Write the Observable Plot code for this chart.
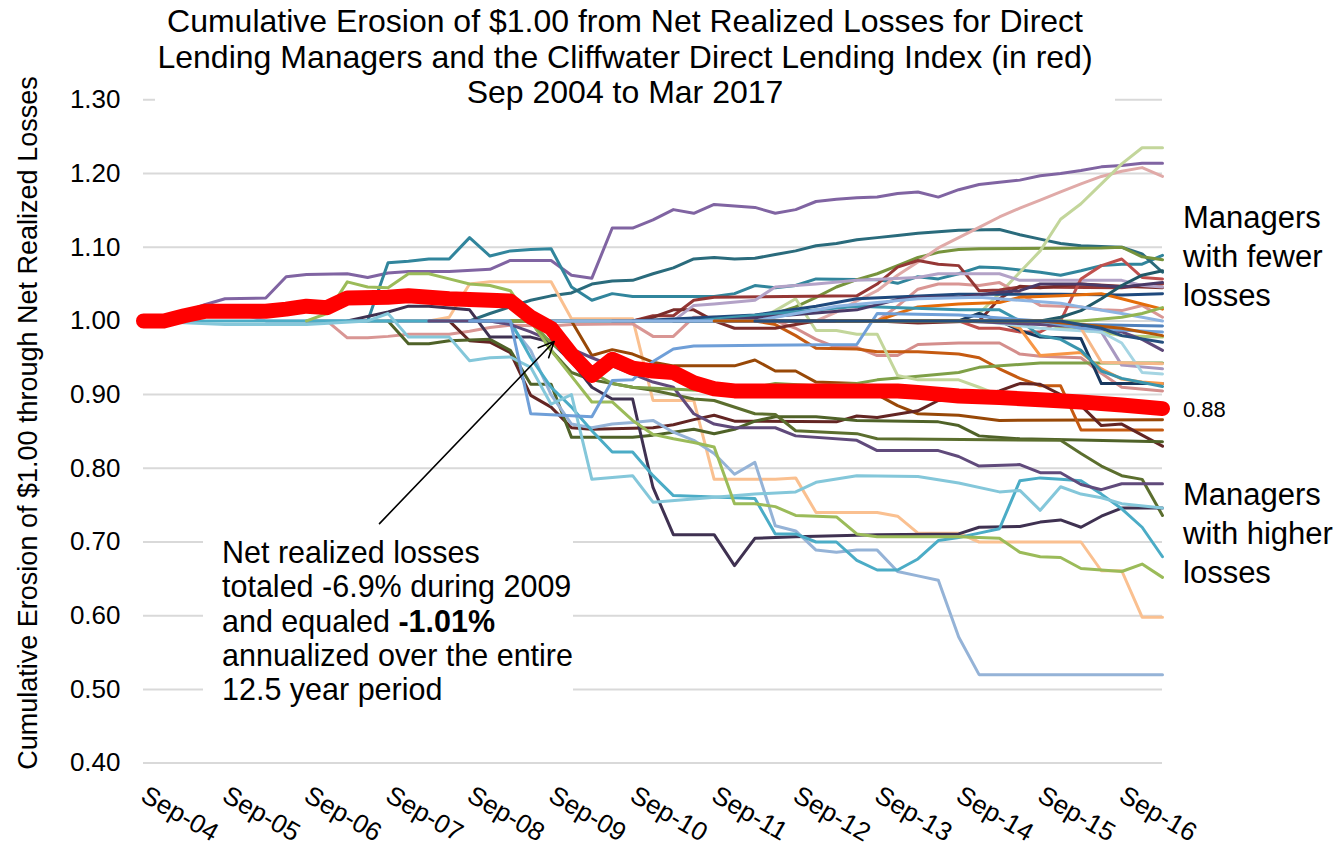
<!DOCTYPE html>
<html><head><meta charset="utf-8">
<script src="https://cdn.jsdelivr.net/npm/d3@7"></script>
<script src="https://cdn.jsdelivr.net/npm/@observablehq/plot@0.6"></script>
<style>
body{margin:0;background:#fff;font-family:"Liberation Sans",Arial,Helvetica,sans-serif;}
#wrap{position:relative;width:1341px;height:846px;overflow:hidden;background:#fff}
.ov{position:absolute;color:#000;white-space:nowrap}
#title{left:155px;top:0;width:960px;height:112px;padding:4px 20px 0 0;box-sizing:border-box;background:#fff;text-align:center;font-size:32px;line-height:35.5px}
#ytitle{left:28px;top:423px;transform:translate(-50%,-50%) rotate(-90deg);font-size:27px}
#note{left:203px;top:527px;width:370px;height:185px;padding:8px 0 0 19px;box-sizing:border-box;background:#fff;font-size:30.5px;line-height:34.25px}
.rl{left:1183px;font-size:31px;line-height:39px}
#fewer{top:198px}
#higher{top:475px}
#lbl88{left:1183px;top:398px;font-size:22px;line-height:24px}
</style></head>
<body><div id="wrap"></div>
<script>
// ---- x axis (quarter index 0 = Sep-04 ... 50 = Mar-17)
const tickQuarters = [0,4,8,12,16,20,24,28,32,36,40,44,48];
const tickLabels = ["Sep-04","Sep-05","Sep-06","Sep-07","Sep-08","Sep-09","Sep-10","Sep-11","Sep-12","Sep-13","Sep-14","Sep-15","Sep-16"];
const yTicks = [0.4,0.5,0.6,0.7,0.8,0.9,1.0,1.1,1.2,1.3];

// ---- Cliffwater Direct Lending Index (red)
const indexCDLI = [[0,1.0],[1,1.0],[2,1.007],[3,1.013],[6,1.013],[7,1.016],[8,1.02],[9,1.018],[10,1.031],[12,1.032],[13,1.034],[15,1.03],[17,1.028],[18,1.027],[19,1.005],[20,0.99],[21,0.955],[22,0.926],[23,0.948],[24,0.936],[25,0.932],[26,0.93],[27,0.916],[28,0.908],[29,0.905],[37,0.905],[38,0.903],[40,0.898],[42,0.896],[44,0.893],[46,0.89],[48,0.886],[50,0.881]];

// ---- individual managers
const m01 = [[0,1.0],[1,1.0],[2,1.012],[3,1.022],[4,1.03],[6,1.031],[7,1.06],[8,1.063],[10,1.064],[11,1.059],[12,1.065],[13,1.067],[15,1.067],[17,1.07],[18,1.082],[20,1.082],[21,1.062],[22,1.058],[23,1.126],[24,1.126],[25,1.137],[26,1.151],[27,1.146],[28,1.158],[29,1.156],[30,1.154],[31,1.146],[32,1.151],[33,1.162],[34,1.165],[35,1.167],[36,1.168],[37,1.173],[38,1.175],[39,1.168],[40,1.178],[41,1.185],[42,1.188],[43,1.191],[44,1.197],[45,1.2],[46,1.204],[47,1.209],[48,1.211],[49,1.214],[50,1.214]];
const m02 = [[8,1.0],[11,1.0],[12,1.079],[13,1.081],[14,1.084],[15,1.084],[16,1.113],[17,1.088],[18,1.095],[19,1.097],[20,1.098],[21,1.046],[22,1.028],[23,1.037],[24,1.033],[28,1.033],[29,1.037],[30,1.048],[31,1.045],[32,1.048],[33,1.057],[36,1.056],[37,1.051],[38,1.06],[39,1.057],[40,1.064],[41,1.073],[42,1.072],[43,1.069],[44,1.066],[45,1.062],[46,1.068],[47,1.075],[48,1.077],[49,1.077],[50,1.089]];
const m03 = [[16,1.0],[17,1.01],[18,1.019],[19,1.028],[20,1.034],[21,1.038],[22,1.05],[23,1.054],[24,1.055],[25,1.064],[26,1.072],[27,1.084],[28,1.086],[29,1.084],[30,1.085],[31,1.09],[32,1.095],[33,1.102],[34,1.105],[35,1.11],[36,1.113],[37,1.116],[38,1.119],[39,1.121],[40,1.123],[42,1.124],[43,1.117],[44,1.111],[45,1.105],[46,1.102],[47,1.101],[48,1.1],[49,1.091],[50,1.066]];
const m04 = [[24,1.0],[30,1.0],[31,1.01],[32,1.019],[33,1.032],[34,1.046],[35,1.056],[36,1.064],[37,1.075],[38,1.086],[39,1.093],[40,1.097],[41,1.098],[47,1.099],[48,1.1],[49,1.087],[50,1.083]];
const m05 = [[26,1.0],[33,1.0],[34,1.012],[35,1.027],[36,1.041],[37,1.062],[38,1.08],[39,1.099],[40,1.113],[41,1.127],[42,1.141],[43,1.153],[44,1.164],[45,1.175],[46,1.186],[47,1.196],[48,1.203],[49,1.208],[50,1.196]];
const m06 = [[30,1.0],[40,1.0],[41,1.01],[42,1.037],[43,1.066],[44,1.095],[45,1.138],[46,1.159],[47,1.186],[48,1.213],[49,1.235],[50,1.235]];
const m07 = [[14,1.0],[15,1.005],[16,1.05],[17,1.053],[20,1.053],[21,1.003],[24,1.003],[25,0.892],[27,0.892],[28,0.785],[31,0.785],[32,0.787],[33,0.74],[36,0.74],[37,0.735],[38,0.712],[40,0.712],[41,0.7],[46,0.7],[47,0.661],[48,0.661],[49,0.598],[50,0.598]];
const m08 = [[8,1.0],[9,1.0],[10,0.977],[11,0.977],[12,0.979],[13,0.982],[15,0.982],[16,0.986],[17,0.991],[18,0.994],[20,0.993],[21,0.995],[24,0.996],[25,0.979],[26,0.979],[27,1.005],[28,1.005],[30,1.0],[36,1.0],[37,1.02],[38,1.043],[39,1.05],[40,1.05],[41,1.048],[42,1.052],[43,1.037],[44,1.021],[46,1.019],[47,1.015],[48,1.014],[49,1.021],[50,1.005]];
const m09 = [[29,1.0],[31,1.0],[32,0.99],[33,0.975],[34,0.964],[35,0.964],[36,0.953],[37,0.953],[38,0.968],[40,0.97],[42,0.97],[43,0.955],[44,0.952],[46,0.95],[47,0.929],[48,0.91],[50,0.905]];
const m10 = [[18,1.0],[21,1.0],[22,0.953],[23,0.961],[24,0.955],[25,0.944],[26,0.939],[29,0.939],[30,0.947],[31,0.932],[32,0.932],[33,0.917],[35,0.915],[36,0.9],[37,0.885],[38,0.874],[40,0.872],[42,0.865],[50,0.866]];
const m11 = [[26,1.0],[30,1.0],[31,0.995],[32,0.98],[33,0.963],[35,0.962],[36,0.958],[38,0.958],[40,0.955],[41,0.95],[42,0.935],[43,0.922],[44,0.912],[45,0.912],[46,0.852],[50,0.852]];
const m12 = [[12,1.0],[15,1.0],[16,0.973],[17,0.971],[18,0.957],[19,0.899],[20,0.883],[21,0.855],[22,0.853],[25,0.855],[26,0.859],[27,0.866],[28,0.872],[29,0.864],[34,0.863],[35,0.871],[36,0.869],[38,0.878],[39,0.892],[40,0.893],[42,0.905],[43,0.915],[44,0.914],[45,0.9],[46,0.885],[47,0.858],[48,0.86],[49,0.845],[50,0.83]];
const m13 = [[11,1.0],[12,1.0],[13,0.969],[14,0.969],[15,0.973],[17,0.975],[18,0.96],[19,0.914],[20,0.914],[21,0.842],[24,0.842],[25,0.845],[26,0.849],[27,0.853],[28,0.847],[29,0.853],[30,0.864],[31,0.87],[33,0.87],[35,0.865],[39,0.863],[40,0.858],[41,0.844],[43,0.84],[50,0.836]];
const m14 = [[16,1.0],[19,1.0],[20,0.96],[21,0.93],[22,0.92],[23,0.915],[24,0.91],[25,0.906],[27,0.894],[28,0.892],[30,0.874],[31,0.873],[32,0.851],[35,0.847],[36,0.84],[45,0.838],[46,0.82],[47,0.803],[48,0.79],[49,0.785],[50,0.736]];
const m15 = [[10,1.0],[12,1.012],[13,1.02],[14,1.02],[16,1.015],[17,0.978],[19,0.978],[20,0.971],[21,0.945],[22,0.91],[23,0.894],[24,0.894],[25,0.774],[26,0.71],[28,0.71],[29,0.668],[30,0.705],[32,0.707],[36,0.71],[40,0.711],[41,0.72],[43,0.721],[44,0.727],[45,0.73],[46,0.72],[47,0.735],[48,0.746],[50,0.746]];
const m16 = [[0,1.0],[2,1.005],[3,1.012],[4,1.015],[6,1.0],[17,1.0],[18,0.995],[19,0.96],[20,0.9],[21,0.86],[22,0.855],[23,0.86],[24,0.862],[25,0.865],[26,0.849],[27,0.838],[28,0.82],[29,0.792],[30,0.808],[31,0.722],[32,0.715],[33,0.689],[34,0.686],[35,0.689],[36,0.689],[37,0.66],[38,0.654],[39,0.648],[40,0.571],[41,0.52],[50,0.52]];
const m17 = [[0,1.0],[18,1.0],[19,0.95],[20,0.91],[21,0.883],[22,0.851],[23,0.822],[24,0.822],[25,0.79],[26,0.763],[28,0.761],[30,0.759],[31,0.711],[32,0.711],[33,0.7],[34,0.7],[35,0.675],[36,0.662],[37,0.662],[38,0.677],[39,0.702],[40,0.706],[41,0.712],[42,0.718],[43,0.783],[44,0.787],[45,0.785],[46,0.783],[47,0.765],[48,0.745],[49,0.72],[50,0.68]];
const m18 = [[0,1.0],[4,0.995],[8,0.995],[11,1.0],[12,1.01],[13,0.978],[15,0.978],[16,0.946],[17,0.95],[18,0.951],[19,0.937],[20,0.887],[21,0.9],[22,0.785],[24,0.79],[25,0.754],[30,0.765],[32,0.768],[33,0.781],[35,0.79],[38,0.789],[40,0.78],[42,0.768],[43,0.77],[44,0.743],[45,0.775],[46,0.765],[47,0.76],[48,0.752],[50,0.746]];
const m19 = [[14,1.0],[17,1.0],[18,0.995],[19,0.985],[20,0.973],[21,0.962],[22,0.95],[25,0.917],[26,0.91],[27,0.874],[28,0.86],[29,0.855],[31,0.855],[32,0.844],[35,0.838],[36,0.824],[39,0.824],[40,0.816],[41,0.803],[43,0.805],[44,0.794],[45,0.794],[46,0.778],[47,0.771],[48,0.779],[50,0.779]];
const m20 = [[8,1.0],[9,1.01],[10,1.053],[11,1.046],[12,1.045],[13,1.064],[14,1.064],[15,1.057],[16,1.05],[17,1.048],[18,1.041],[19,1.0],[20,0.96],[21,0.925],[22,0.89],[23,0.89],[24,0.865],[25,0.846],[26,0.84],[27,0.835],[28,0.829],[29,0.752],[30,0.752],[31,0.748],[32,0.736],[34,0.734],[35,0.711],[36,0.707],[40,0.707],[42,0.705],[43,0.686],[44,0.68],[45,0.679],[46,0.664],[48,0.66],[49,0.67],[50,0.652]];
const m21 = [[18,1.0],[19,1.0],[20,0.97],[21,0.95],[22,0.93],[23,0.915],[24,0.91],[28,0.905],[30,0.91],[31,0.915],[33,0.912],[35,0.915],[36,0.92],[38,0.925],[40,0.93],[41,0.937],[44,0.943],[50,0.943]];
const m22 = [[22,1.0],[30,1.0],[31,1.014],[32,1.03],[33,0.987],[34,0.987],[35,0.982],[36,0.982],[37,0.926],[38,0.92],[40,0.92],[41,0.91],[42,0.899],[46,0.893],[50,0.884]];
const m23 = [[20,1.0],[44,1.0],[45,0.99],[47,0.985],[48,0.98],[50,0.978]];
const m24 = [[23,1.0],[24,1.0],[25,1.007],[26,1.007],[27,1.028],[28,1.032],[35,1.034],[36,1.05],[37,1.073],[38,1.082],[39,1.077],[40,1.075],[41,1.041],[42,1.042],[43,1.046],[48,1.045],[49,1.048],[50,1.05]];
const m25 = [[24,1.0],[25,1.005],[26,1.015],[27,1.015],[28,1.0],[29,0.99],[31,0.99],[32,0.995],[33,1.0],[36,1.0],[38,0.997],[41,1.0],[42,1.03],[43,1.047],[44,1.045],[46,1.05],[48,1.047],[50,1.045]];
const m26 = [[25,1.0],[26,1.0],[27,1.021],[28,1.023],[30,1.028],[31,1.046],[33,1.05],[35,1.055],[38,1.059],[39,1.064],[42,1.064],[43,1.055],[48,1.055],[49,1.048],[50,1.046]];
const m27 = [[28,1.0],[40,1.0],[41,0.99],[42,0.99],[43,0.985],[44,0.985],[45,1.0],[46,1.057],[47,1.075],[48,1.084],[49,1.059],[50,1.057]];
const m28 = [[24,1.0],[30,1.008],[33,1.02],[35,1.03],[40,1.036],[45,1.036],[48,1.035],[50,1.037]];
const m29 = [[26,1.0],[40,1.0],[41,1.01],[42,1.0],[43,0.987],[44,0.978],[46,0.976],[47,0.915],[50,0.915]];
const m30 = [[32,1.0],[36,1.0],[37,1.01],[38,1.019],[40,1.023],[42,1.025],[43,1.032],[45,1.034],[47,1.037],[48,1.03],[49,1.023],[50,1.016]];
const m31 = [[30,1.0],[42,1.0],[43,0.99],[44,0.953],[46,0.957],[47,0.935],[48,0.921],[49,0.917],[50,0.915]];
const m32 = [[27,1.0],[35,1.02],[40,1.015],[42,1.015],[43,1.0],[44,0.98],[45,0.975],[46,0.96],[47,0.932],[48,0.922],[50,0.911]];
const m33 = [[30,1.0],[45,1.0],[46,0.99],[47,0.985],[48,0.94],[50,0.935]];
const m34 = [[30,1.0],[41,1.0],[44,0.99],[47,0.985],[48,0.97],[49,0.93],[50,0.928]];
const m35 = [[36,1.0],[45,1.0],[46,0.99],[47,0.944],[50,0.942]];
const m36 = [[28,1.0],[40,1.0],[44,0.995],[47,0.99],[48,0.985],[49,0.975],[50,0.96]];
const m37 = [[28,1.0],[35,1.015],[37,1.029],[38,1.032],[40,1.032],[42,1.039],[43,1.041],[44,1.05],[46,1.05],[48,1.046],[50,1.052]];
const m38 = [[30,1.0],[44,1.0],[45,1.005],[46,1.014],[47,1.03],[48,1.048],[49,1.062],[50,1.068]];
const m39 = [[20,1.0],[44,1.0],[46,0.995],[50,0.993]];
const m40 = [[16,1.0],[18,1.0],[19,0.874],[22,0.87],[23,0.919],[24,0.92],[25,0.945],[26,0.962],[27,0.966],[35,0.968],[36,1.01],[40,1.008],[44,1.0],[46,0.99],[50,0.985]];
const m41 = [[20,1.0],[30,1.0],[34,1.02],[38,1.03],[41,1.032],[43,1.028],[45,1.024],[46,1.019],[48,1.01],[50,1.0]];
const m42 = [[34,1.0],[46,1.0],[48,1.005],[49,1.01],[50,1.018]];
const m43 = [[28,1.0],[44,1.0],[46,0.995],[48,0.99],[50,0.98]];
const m44 = [[30,1.0],[45,1.0],[47,0.99],[48,0.98],[50,0.971]];

const managers = [m01,m02,m03,m04,m05,m06,m07,m08,m09,m10,m11,m12,m13,m14,m15,m16,m17,m18,m19,m20,m21,m22,m23,m24,m25,m26,m27,m28,m29,m30,m31,m32,m33,m34,m35,m36,m37,m38,m39,m40,m41,m42,m43,m44];
const managerColors = ["#8064A2","#31859C","#2A6B7C","#77933C","#E0AAA8","#C3D69B","#FAC090","#D99694","#D48E8C","#984807","#C55A11","#632523","#4F6228","#5B6E2E","#3F3151","#95B3D7","#4BACC6","#84C7DA","#604A7B","#9BBB59","#7FA048","#C3D69B","#B0CC78","#953735","#7B2C2A","#B3A2C7","#C0504D","#1F497D","#17375E","#E46C0A","#F79646","#3A95AD","#A898C0","#A5D5E3","#F6B888","#5F497A","#4A3A68","#215968","#4F81BD","#6F9FD8","#8DB4E2","#92B553","#B65708","#254F7E"];

// ---- build table
const rows = [];
managers.forEach((pts, i) => pts.forEach(([q, v]) => rows.push({s: "m" + i, q, v, c: managerColors[i]})));
const idxRows = indexCDLI.map(([q, v]) => ({q, v}));
const arrowNote = [{q1: 11.58, v1: 0.725, q2: 20.15, v2: 0.972}];

const W = 1341, H = 846;
const chart = Plot.plot({
  width: W, height: H,
  marginLeft: 143, marginRight: 179, marginTop: 99.3, marginBottom: 83.4,
  style: {fontFamily: '"Liberation Sans", Arial, sans-serif', fontSize: "26px", color: "#000", background: "#fff", overflow: "visible"},
  x: {domain: [0, 50], ticks: tickQuarters, tickFormat: (d) => tickLabels[tickQuarters.indexOf(d)], tickRotate: 30, tickSize: 0, tickPadding: 30, label: null},
  y: {domain: [0.4, 1.3], ticks: yTicks, tickFormat: d3.format(".2f"), tickSize: 0, tickPadding: 23, label: null},
  color: {type: "identity"},
  marks: [
    Plot.ruleY(yTicks, {stroke: "#d9d9d9", strokeWidth: 2}),
    Plot.line(rows, {x: "q", y: "v", z: "s", stroke: "c", strokeWidth: 3, strokeLinejoin: "round"}),
    Plot.line(idxRows, {x: "q", y: "v", stroke: "#FF0000", strokeWidth: 15, strokeLinejoin: "round", strokeLinecap: "round"}),
    Plot.arrow(arrowNote, {x1: "q1", y1: "v1", x2: "q2", y2: "v2", stroke: "#000", strokeWidth: 1.6, headLength: 16, headAngle: 50})
  ]
});
const wrap = document.getElementById("wrap");
wrap.appendChild(chart);
chart.style.position = "absolute"; chart.style.left = "0"; chart.style.top = "0";

function addDiv(id, cls, html) {
  const d = document.createElement("div");
  d.id = id; d.className = "ov " + cls; d.innerHTML = html;
  wrap.appendChild(d);
}
addDiv("title", "", "Cumulative Erosion of $1.00 from Net Realized Losses for Direct<br>Lending Managers and the Cliffwater Direct Lending Index (in red)<br>Sep 2004 to Mar 2017");
addDiv("ytitle", "", "Cumulative Erosion of $1.00 through Net Realized Losses");
addDiv("note", "", "Net realized losses<br>totaled -6.9% during 2009<br>and equaled <b>-1.01%</b><br>annualized over the entire<br>12.5 year period");
addDiv("fewer", "rl", "Managers<br>with fewer<br>losses");
addDiv("higher", "rl", "Managers<br>with higher<br>losses");
addDiv("lbl88", "", "0.88");
</script>
</body></html>
